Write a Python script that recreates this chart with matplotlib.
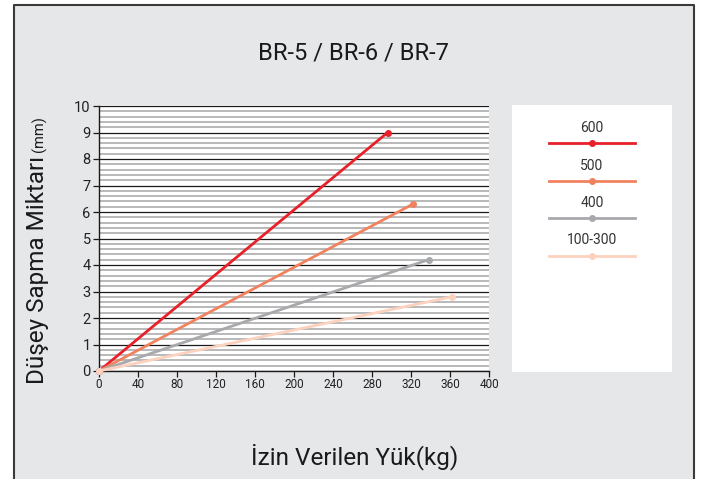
import matplotlib.pyplot as plt
from matplotlib.patches import Rectangle
from matplotlib.lines import Line2D
from matplotlib.ticker import MultipleLocator

plt.rcParams['font.family'] = ['Roboto', 'DejaVu Sans']

# yük (kg) / sapma (mm) uç noktaları, her seri 0'dan başlıyor
series_names = ['600', '500', '400', '100-300']
load_end = [296, 322, 338, 362]
deflection_end = [9.0, 6.3, 4.2, 2.8]
colors = ['#e8202a', '#f0825f', '#a7a9ac', '#fcd2bf']

x_ticks = [0, 40, 80, 120, 160, 200, 240, 280, 320, 360, 400]
y_ticks = [0, 1, 2, 3, 4, 5, 6, 7, 8, 9, 10]

bg = '#e6e7e9'
W, H = 707, 479

fig = plt.figure(figsize=(W / 100, H / 100), dpi=100, facecolor='white')

# gri arka plan, altı açık çerçeve
fig.patches.append(Rectangle((14 / W, 0), (694 - 14) / W, 1 - 5 / H, transform=fig.transFigure,
                             facecolor=bg, edgecolor='none', zorder=-10))
fig.lines.append(Line2D([14 / W, 14 / W, 694 / W, 694 / W], [0, 1 - 5 / H, 1 - 5 / H, 0],
                        transform=fig.transFigure, color='#3a3a3a', linewidth=1.5))

ax = fig.add_axes([99 / W, 1 - 371 / H, (489 - 99) / W, (371 - 106) / H])
ax.set_facecolor('white')

ax.set_xlim(0, 400)
ax.set_ylim(0, 10)
ax.set_xticks(x_ticks)
ax.set_yticks(y_ticks)
ax.yaxis.set_minor_locator(MultipleLocator(0.2))
ax.grid(which='minor', axis='y', color='#b3b3b3', linewidth=1.3, zorder=0)
ax.grid(which='major', axis='y', color='#1a1a1a', linewidth=0.9, zorder=0)
ax.tick_params(axis='y', which='minor', length=0)
ax.tick_params(axis='both', which='major', direction='out', length=4, width=0.9,
               color='#1a1a1a', labelcolor='#222222')
ax.tick_params(axis='y', labelsize=10.5, pad=2)
ax.tick_params(axis='x', labelsize=8.5, pad=1)
for s in ['top', 'right']:
    ax.spines[s].set_visible(False)
for s in ['left', 'bottom']:
    ax.spines[s].set_color('#1a1a1a')
    ax.spines[s].set_linewidth(1.0)

for name, xe, ye, c in zip(series_names, load_end, deflection_end, colors):
    ax.plot([0, xe], [0, ye], color=c, linewidth=2.0, marker='o', markersize=4,
            markevery=[1], solid_capstyle='round', zorder=3, clip_on=False)
    ax.plot([0], [0], marker='o', markersize=4, color=c, zorder=3, clip_on=False)

# lejant kutusu
lax = fig.add_axes([512 / W, 1 - 372 / H, (672 - 512) / W, (372 - 105) / H])
lax.set_xlim(0, 160)
lax.set_ylim(267, 0)
lax.set_facecolor('white')
lax.set_xticks([])
lax.set_yticks([])
for s in lax.spines.values():
    s.set_visible(False)
for i, (name, c) in enumerate(zip(series_names, colors)):
    yl = 38 + i * 37.5
    lax.plot([37, 123], [yl, yl], color=c, linewidth=2.0)
    lax.plot([80], [yl], marker='o', markersize=4, color=c)
    lax.text(80, yl - 8, name, ha='center', va='bottom', fontsize=10, color='#333333')

fig.text(353 / W, 1 - 53 / H, 'BR-5 / BR-6 / BR-7', ha='center', va='center',
         fontsize=17, color='#1a1a1a')
fig.text(355 / W, 1 - 457 / H, 'İzin Verilen Yük(kg)', ha='center', va='center',
         fontsize=17.5, color='#1a1a1a')

ylab = fig.text(38 / W, 1 - 384 / H, 'Düşey Sapma Miktarı', rotation=90,
                ha='center', va='bottom', fontsize=17.5, color='#1a1a1a')
fig.canvas.draw()
bb = ylab.get_window_extent()
fig.text(39 / W, (bb.y1 + 4) / H, '(mm)', rotation=90, ha='center', va='bottom',
         fontsize=10.5, color='#1a1a1a')

fig.savefig('out.png', dpi=100, facecolor=fig.get_facecolor())
